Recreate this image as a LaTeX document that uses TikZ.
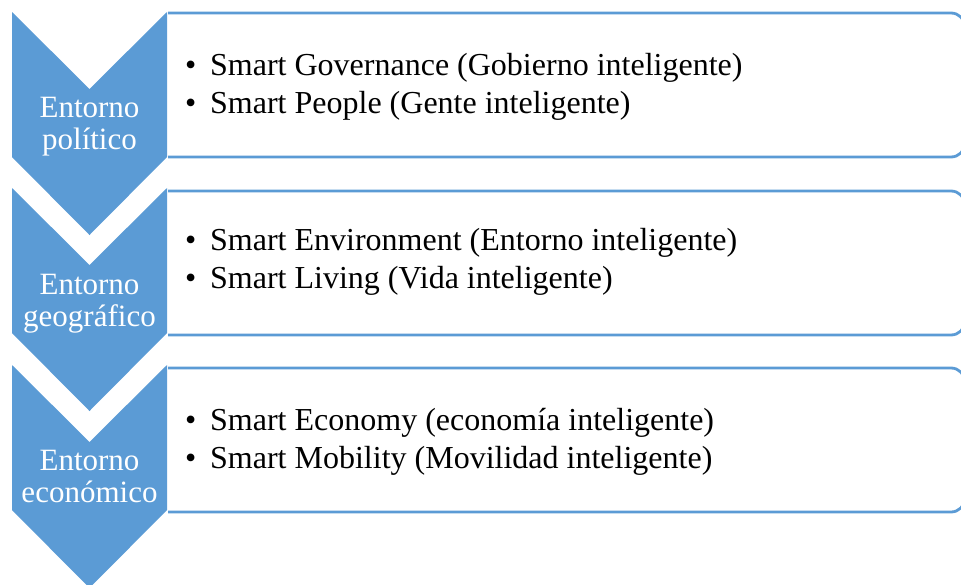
\documentclass[tikz,border=0pt]{standalone}
\usepackage{fontspec}
\setmainfont{Liberation Serif}
\definecolor{chevblue}{HTML}{5B9BD5}
\begin{document}
\begin{tikzpicture}[x=1pt,y=-1pt,
  chev/.style={fill=chevblue,draw=none},
  itembox/.style={draw=chevblue,line width=2.8pt,fill=white,rounded corners=14pt},
  chevtext/.style={text=white,font=\fontsize{31}{33}\selectfont,inner sep=0pt,anchor=base},
  itemtext/.style={text=black,font=\fontsize{32}{38}\selectfont,inner sep=0pt,anchor=base west}]
\useasboundingbox (0,0) rectangle (961,584);
\clip (0,0) rectangle (961,584);
\foreach \dy/\bt/\bb in {0/13/157, 176/191/335, 353/368/512}{
  \draw[itembox] (168,\bt) -- (965,\bt) -- (965,\bb) -- (168,\bb);
  \fill[chev] (12,12+\dy) -- (89.5,89+\dy) -- (167,12+\dy) -- (167,157+\dy) -- (89.5,235+\dy) -- (12,157+\dy) -- cycle;
}
\node[chevtext] (c1a) at (89.5,117) {Entorno};
\node[chevtext] (c1b) at (89.5,149) {político};
\node[chevtext] (c2a) at (89.5,294) {Entorno};
\node[chevtext] (c2b) at (89.5,326) {geográfico};
\node[chevtext] (c3a) at (89.5,470) {Entorno};
\node[chevtext] (c3b) at (89.5,502) {económico};
\node[itemtext] (i1a) at (185,75) {\makebox[25pt][l]{•}Smart Governance (Gobierno inteligente)};
\node[itemtext] (i1b) at (185,113) {\makebox[25pt][l]{•}Smart People (Gente inteligente)};
\node[itemtext] (i2a) at (185,250) {\makebox[25pt][l]{•}Smart Environment (Entorno inteligente)};
\node[itemtext] (i2b) at (185,288) {\makebox[25pt][l]{•}Smart Living (Vida inteligente)};
\node[itemtext] (i3a) at (185,430) {\makebox[25pt][l]{•}Smart Economy (economía inteligente)};
\node[itemtext] (i3b) at (185,468) {\makebox[25pt][l]{•}Smart Mobility (Movilidad inteligente)};
\end{tikzpicture}
\end{document}
